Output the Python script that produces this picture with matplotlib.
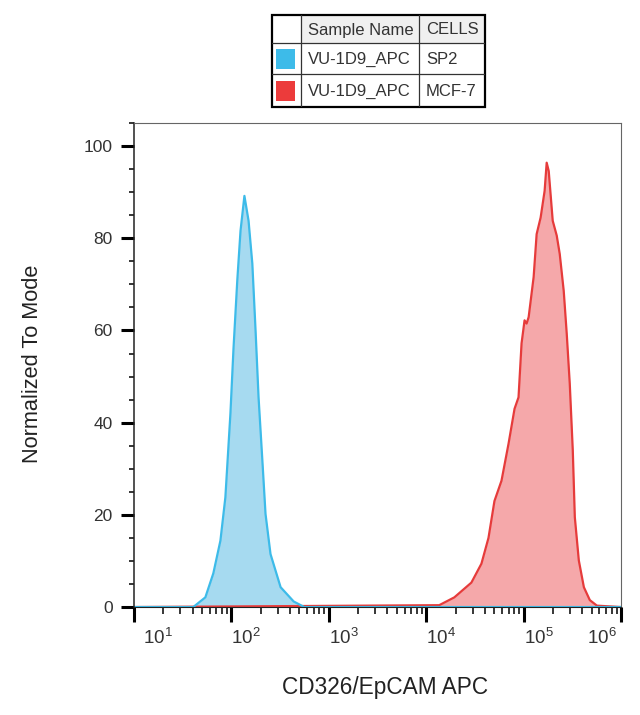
import numpy as np
import matplotlib.pyplot as plt
import matplotlib.transforms as mtransforms
from matplotlib.patches import Rectangle
from matplotlib.ticker import LogLocator, NullFormatter

plt.rcParams['font.family'] = ['Liberation Sans', 'DejaVu Sans']
plt.rcParams['mathtext.fontset'] = 'custom'
plt.rcParams['mathtext.rm'] = 'Liberation Sans'

# histogram outlines (fluorescence, % of mode)
blue_x = [10, 40.6, 54.0, 65.2, 77.1, 86.7, 97.7, 105, 115, 124, 136, 150, 164,
          177, 190, 209, 224, 252, 320, 436, 560, 1e6]
blue_y = [0, 0, 2.1, 7.3, 14.4, 23.8, 42, 56, 71, 81.6, 89.2, 83.8, 74.5,
          60, 45.5, 31, 20.2, 11.5, 4.3, 1.2, 0, 0]

red_x = [10, 13600, 19450, 29100, 36900, 43600, 50200, 59300, 70000, 80700, 88700,
         95300, 102300, 107400, 112700, 126800, 136100, 149600, 164400, 172600,
         181100, 199100, 218800, 235000, 258200, 277300, 297800, 319900, 335700,
         369000, 415900, 478600, 566200, 1e6]
red_y = [0, 0.4, 2.1, 5.3, 9.4, 15, 23, 27.4, 35.4, 43, 45.5,
         57.2, 62.2, 61.5, 62.9, 71.6, 80.9, 84.5, 90.3, 96.4,
         94.6, 83.8, 80.6, 76.6, 68.6, 59.3, 48.5, 34, 19.5,
         10.1, 4.3, 1.5, 0.3, 0]

decades = [1, 2, 3, 4, 5, 6]
yticks = [0, 20, 40, 60, 80, 100]

table_header = ['', 'Sample Name', 'CELLS']
table_rows = [['VU-1D9_APC', 'SP2'], ['VU-1D9_APC', 'MCF-7']]
swatch_colors = ['#3dbbe9', '#ec3b3b']

fig = plt.figure(figsize=(6.4, 7.15), dpi=100)
ax = fig.add_axes([0.2094, 0.151, 0.7609, 0.6769])

ax.fill_between(red_x, red_y, color='#f5a8aa', lw=0)
ax.plot(red_x, red_y, color='#e63b3b', lw=1.6)
ax.fill_between(blue_x, blue_y, color='#a6daf0', lw=0)
ax.plot(blue_x, blue_y, color='#3dbbe9', lw=1.6)

ax.set_xscale('log')
ax.set_xlim(10, 1e6)
ax.set_ylim(0, 105)

ax.set_xticks([10.0 ** d for d in decades])
ax.set_xticklabels([r'$\mathregular{10^{%d}}$' % d for d in decades])
ax.xaxis.set_minor_locator(LogLocator(base=10, subs=np.arange(2, 10)))
ax.xaxis.set_minor_formatter(NullFormatter())
ax.set_yticks(yticks)
ax.set_yticks(np.arange(0, 106, 5), minor=True)

ax.tick_params(axis='x', which='major', length=10.8, width=2.2, color='black',
               labelsize=13.5, labelcolor='#333333', pad=4)
ax.tick_params(axis='x', which='minor', length=5, width=1.1, color='black')
ax.tick_params(axis='y', which='major', length=9.4, width=2.2, color='black',
               labelsize=12.5, labelcolor='#333333', pad=6)
ax.tick_params(axis='y', which='minor', length=3.8, width=1.1, color='black')

for side in ['top', 'right']:
    ax.spines[side].set_color('#666666')
    ax.spines[side].set_linewidth(0.8)
ax.spines['left'].set_color('#222222')
ax.spines['left'].set_linewidth(1.1)
ax.spines['bottom'].set_color('#222222')

# FlowJo style: decade labels sit to the right of their tick
offsets = [9, 0, 0, 0, 0, -4]
for lbl, off in zip(ax.get_xticklabels(), offsets):
    lbl.set_ha('right' if off < 0 else 'left')
    lbl.set_transform(lbl.get_transform() +
                      mtransforms.ScaledTranslation(off / 100, 0, fig.dpi_scale_trans))

ax.set_xlabel('CD326/EpCAM APC', fontsize=16.3, color='#222222')
ax.xaxis.label.set_va('center')
ax.xaxis.set_label_coords(0.515, -0.167)
ax.set_ylabel('Normalized To Mode', fontsize=15.7, color='#222222')
ax.yaxis.label.set_va('center')
ax.yaxis.set_label_coords(-0.209, 0.502)

# legend table (drawn in pixel units inside its own axes)
col_w = [29, 118, 66]
row_h = [28, 31, 33]
tw, th = sum(col_w), sum(row_h)
tax = fig.add_axes([272 / 640, 1 - 107 / 715, tw / 640, th / 715])
tax.set_xlim(0, tw)
tax.set_ylim(th, 0)
tax.axis('off')
col_x = np.concatenate([[0], np.cumsum(col_w)])
row_y = np.concatenate([[0], np.cumsum(row_h)])

tax.add_patch(Rectangle((col_x[1], 0), tw - col_x[1], row_h[0],
                        facecolor='#f0f0f0', edgecolor='none'))
for xv in col_x[1:-1]:
    tax.plot([xv, xv], [0, th], color='#333333', lw=0.9)
for yv in row_y[1:-1]:
    tax.plot([0, tw], [yv, yv], color='#333333', lw=0.9)
tax.add_patch(Rectangle((0, 0), tw, th, facecolor='none', edgecolor='black',
                        lw=1.6, clip_on=False))

for j, txt in enumerate(table_header):
    if txt:
        tax.text(col_x[j] + 7, row_h[0] / 2 + 1, txt, fontsize=12,
                 color='#333333', va='center', ha='left')
for i, (row, c) in enumerate(zip(table_rows, swatch_colors)):
    yc = (row_y[i + 1] + row_y[i + 2]) / 2
    tax.add_patch(Rectangle((4, yc - 10), 19, 20, facecolor=c, edgecolor='none'))
    for j, txt in enumerate(row):
        tax.text(col_x[j + 1] + 7, yc + 1, txt, fontsize=12,
                 color='#333333', va='center', ha='left')

fig.savefig('out.png', dpi=100)
